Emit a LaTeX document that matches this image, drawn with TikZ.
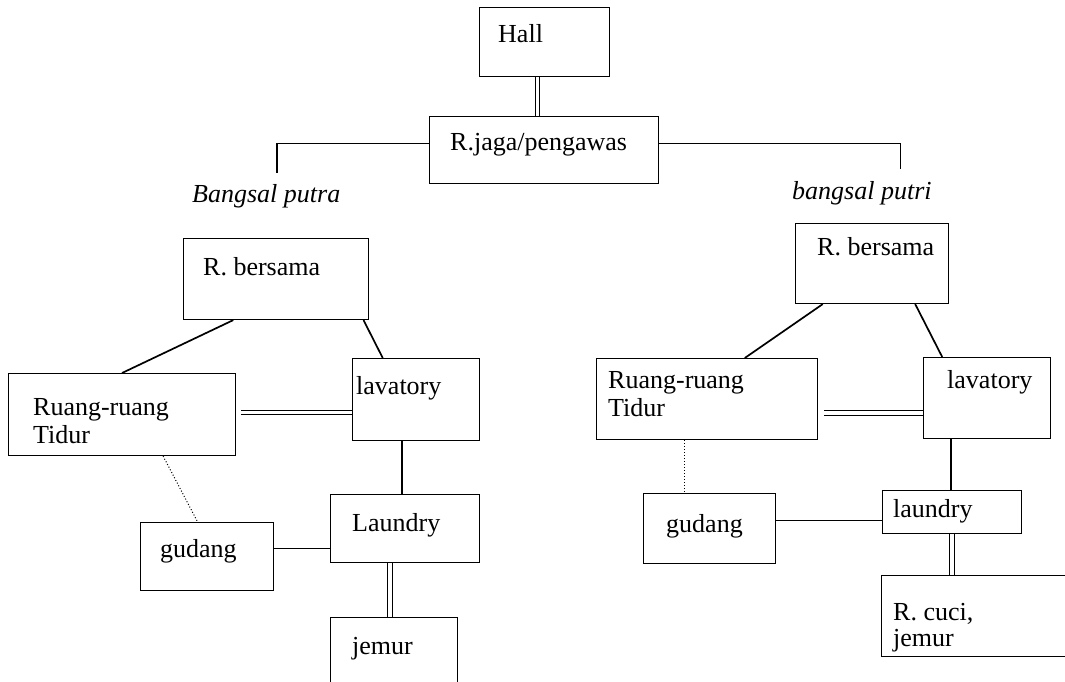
\documentclass[tikz,border=0pt]{standalone}
\usepackage{fontspec}
\setmainfont{Liberation Serif}
\usetikzlibrary{calc}

\tikzset{
  box/.style={draw, line width=1.1pt, inner sep=0pt, anchor=north west},
  lbl/.style={inner sep=0pt, anchor=base west, font=\fontsize{26}{29}\selectfont},
  link/.style={line width=1.1pt},
  diag/.style={line width=1.7pt},
  dbl/.style={double, double distance=3.2pt, line width=1.3pt},
  dots/.style={line width=1pt, dotted}
}

\begin{document}
\begin{tikzpicture}[x=1pt, y=-1pt]
\useasboundingbox (0,0) rectangle (1065,682);
\clip (0,0) rectangle (1065,682);

% --- top: hall and warden room ---
\node[box, minimum width=130, minimum height=69] (hall) at (479,7) {};
\node[lbl] (hallT) at (498,43) {Hall};
\node[box, minimum width=229, minimum height=67] (jaga) at (429,116) {};
\node[lbl] (jagaT) at (450,150) {R.jaga/pengawas};
\draw[dbl] ([xshift=-7pt]hall.south) coordinate (h1) -- (h1 |- jaga.north);

% wings
\node[lbl, font=\fontsize{26}{29}\selectfont\itshape] (putra) at (192,202) {Bangsal putra};
\node[lbl, font=\fontsize{26}{29}\selectfont\itshape] (putri) at (792,199) {bangsal putri};
\draw[link] ([yshift=6.5pt]jaga.west) -- ++(-152,0) -- ++(0,29) coordinate (bl);
\draw[link] ([yshift=6.5pt]jaga.east) -- ++(241,0) -- ++(0,25) coordinate (br);

% --- left wing (putra) ---
\node[box, minimum width=185, minimum height=81] (lbers) at (183,238) {};
\node[lbl] (lbersT) at (203,275) {R. bersama};
\node[box, minimum width=227, minimum height=82] (lruang) at (8,373) {};
\node[lbl] (lruangT1) at (33,415) {Ruang-ruang};
\node[lbl] (lruangT2) at (33,443) {Tidur};
\node[box, minimum width=127, minimum height=82] (llav) at (352,358) {};
\node[lbl] (llavT) at (356,394) {lavatory};
\node[box, minimum width=149, minimum height=68] (llaund) at (330,494) {};
\node[lbl] (llaundT) at (352,531) {Laundry};
\node[box, minimum width=133, minimum height=68] (lgud) at (140,522) {};
\node[lbl] (lgudT) at (160,557) {gudang};
\node[box, minimum width=127, minimum height=90] (ljemur) at (330,617) {};
\node[lbl] (ljemurT) at (352,654) {jemur};

\draw[diag] ($(lbers.south west)!0.27!(lbers.south east)$) -- ($(lruang.north west)!0.5!(lruang.north east)$);
\draw[diag] ($(lbers.south west)!0.97!(lbers.south east)$) -- ($(llav.north west)!0.24!(llav.north east)$);
\draw[dbl] ([shift={(5,-2)}]lruang.east) coordinate (l1) -- (l1 -| llav.west);
\draw[link] ([xshift=50pt]llav.south west) coordinate (l2) -- (l2 |- llaund.north);
\draw[link] ([yshift=8pt]lgud.east) coordinate (l3) -- (l3 -| llaund.west);
\draw[dbl] ([xshift=60pt]llaund.south west) coordinate (l4) -- (l4 |- ljemur.north);
\draw[dots] ($(lruang.south west)!0.68!(lruang.south east)$) -- ($(lgud.north west)!0.43!(lgud.north east)$);

% --- right wing (putri) ---
\node[box, minimum width=153, minimum height=80] (rbers) at (795,223) {};
\node[lbl] (rbersT) at (817,255) {R. bersama};
\node[box, minimum width=221, minimum height=81] (rruang) at (596,358) {};
\node[lbl] (rruangT1) at (608,388) {Ruang-ruang};
\node[lbl] (rruangT2) at (608,416) {Tidur};
\node[box, minimum width=127, minimum height=81] (rlav) at (923,357) {};
\node[lbl] (rlavT) at (947,388) {lavatory};
\node[box, minimum width=132, minimum height=70] (rgud) at (643,493) {};
\node[lbl] (rgudT) at (666,532) {gudang};
\node[box, minimum width=139, minimum height=43] (rlaund) at (882,490) {};
\node[lbl] (rlaundT) at (893,517) {laundry};
\node[box, minimum width=220, minimum height=81] (rcuci) at (881,575) {};
\node[lbl] (rcuciT1) at (893,620) {R. cuci,};
\node[lbl] (rcuciT2) at (893,646) {jemur};

\draw[diag] ($(rbers.south west)!0.18!(rbers.south east)$) -- ($(rruang.north west)!0.67!(rruang.north east)$);
\draw[diag] ($(rbers.south west)!0.78!(rbers.south east)$) -- ($(rlav.north west)!0.15!(rlav.north east)$);
\draw[dbl] ([shift={(6,14)}]rruang.east) coordinate (r1) -- (r1 -| rlav.west);
\draw[link] ([xshift=28pt]rlav.south west) coordinate (r2) -- (r2 |- rlaund.north);
\draw[link] ([yshift=8pt]rgud.east) coordinate (r3) -- (r3 -| rlaund.west);
\draw[dbl] ([xshift=70pt]rlaund.south west) coordinate (r4) -- (r4 |- rcuci.north);
\draw[dots] ([xshift=88pt]rruang.south west) coordinate (r5) -- (r5 |- rgud.north);
\end{tikzpicture}
\end{document}
